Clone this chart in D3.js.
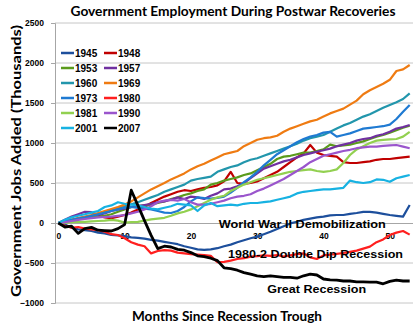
<!DOCTYPE html>
<html><head><meta charset="utf-8">
<script src="https://cdn.jsdelivr.net/npm/d3@7"></script>
<style>
html,body{margin:0;padding:0;background:#fff;}
svg{display:block;}
</style></head>
<body>
<svg id="chart" width="420" height="328"></svg>
<script>
// ---------- DATA ----------
const months = d3.range(0, 54);
const xTickLabels = [0, 10, 20, 30, 40, 50];
const yTickValues = [-1000, -500, 0, 500, 1000, 1500, 2000, 2500];
const seriesNames = ["1945","1948","1953","1957","1960","1969","1973","1980","1981","1990","2001","2007"];
const seriesColors = ["#1d4f9c","#c00000","#5b9b1c","#7030a0","#2296ac","#ef7b12","#1f7ad2","#ff1f1f","#92d050","#9a55cc","#17b2e2","#000000"];

const s1945 = [0,-20,-60,-80,-90,-100,-120,-130,-150,-155,-165,-180,-185,-195,-210,-220,-235,-250,-265,-290,-310,-330,-335,-330,-315,-290,-270,-240,-215,-190,-170,-140,-110,-75,-40,-5,15,40,55,70,80,95,100,100,115,125,140,140,130,115,100,90,80,225];
const s1948 = [0,20,40,60,70,75,90,70,60,80,100,130,170,200,250,290,330,360,390,410,400,420,440,450,470,520,640,500,490,500,520,560,600,640,700,760,820,870,975,880,850,840,830,760,750,750,760,770,790,800,800,810,820,830];
const s1953 = [0,20,35,50,60,70,80,90,110,140,170,200,210,220,230,250,270,300,320,350,370,400,420,480,500,530,550,570,600,620,660,700,740,800,830,840,860,880,880,900,920,980,960,970,980,1000,1020,1050,1080,1100,1130,1160,1190,1215];
const s1957 = [0,40,80,110,140,135,100,120,150,170,180,200,210,225,240,260,270,290,320,300,330,320,300,340,370,420,430,460,500,560,620,680,710,740,770,790,820,850,870,890,910,930,960,980,1000,1030,1050,1060,1090,1110,1140,1180,1200,1225];
const s1960 = [0,15,30,50,70,90,110,140,165,190,210,235,260,290,320,350,390,420,450,480,530,550,565,580,640,670,700,720,760,790,810,840,870,900,930,960,990,1030,1060,1080,1100,1140,1180,1220,1250,1290,1330,1360,1400,1440,1475,1510,1550,1620];
const s1969 = [0,20,40,60,80,100,125,150,175,200,230,270,320,370,420,460,500,545,580,620,670,710,740,780,820,860,880,900,960,1000,1040,1060,1070,1090,1140,1180,1210,1240,1270,1290,1330,1370,1400,1430,1480,1530,1610,1660,1700,1740,1790,1900,1920,1975];
const s1973 = [0,20,40,55,70,90,110,130,150,170,190,200,190,180,170,150,130,125,150,200,270,320,310,305,315,330,380,440,510,570,640,720,790,860,910,960,1010,1050,1080,1100,1130,1140,1080,1100,1120,1150,1180,1190,1200,1210,1230,1300,1390,1475];
const s1980 = [0,-35,-60,-50,-70,-80,-90,-110,-140,-150,-190,-240,-270,-290,-380,-350,-340,-345,-370,-380,-390,-395,-400,-410,-490,-485,-470,-450,-440,-420,-415,-405,-410,-400,-420,-405,-390,-380,-430,-450,-405,-395,-385,-375,-360,-345,-320,-295,-240,-205,-150,-120,-100,-145];
const s1981 = [0,5,10,15,15,20,25,30,40,30,5,10,15,30,45,55,65,90,120,140,170,210,250,290,320,340,400,440,480,510,540,560,580,600,620,640,650,660,670,650,640,650,670,750,850,920,960,1000,1030,1040,1045,1050,1080,1140];
const s1990 = [0,10,25,40,50,60,70,75,80,90,100,120,140,170,210,260,280,290,280,300,260,230,230,240,260,280,310,330,340,360,400,430,470,510,550,600,650,700,760,800,840,860,880,900,915,935,945,955,955,965,970,975,955,935];
const s2001 = [0,40,70,90,110,130,150,200,220,260,240,230,220,200,180,170,190,210,240,230,220,150,220,250,210,220,230,220,240,250,250,260,270,290,310,330,370,390,400,410,420,420,430,440,530,510,500,510,545,540,515,560,580,600];
const s2007 = [0,-50,-40,-130,-70,-55,-90,-95,-100,-70,-20,410,220,30,-155,-320,-290,-300,-330,-340,-370,-410,-420,-440,-470,-560,-570,-590,-620,-640,-660,-670,-660,-670,-680,-680,-690,-660,-640,-650,-700,-710,-715,-725,-725,-735,-735,-740,-740,-760,-730,-715,-725,-725];

const seriesValues = [s1945,s1948,s1953,s1957,s1960,s1969,s1973,s1980,s1981,s1990,s2001,s2007];

const annotations = [
  {text:"World War II Demobilization", month:24.2, value:-62, w:167},
  {text:"1980-2 Double Dip Recession", month:25.6, value:-437, w:175},
  {text:"Great Recession", month:31.5, value:-875, w:99}
];

// ---------- LAYOUT ----------
const svg = d3.select("#chart");
const pLeft = 55, pRight = 413, pTop = 23, pBottom = 303;

const x = d3.scalePoint().domain(months).range([pLeft, pRight]).padding(0.5);
const y = d3.scaleLinear().domain([-1000, 2500]).range([pBottom, pTop]);
const xAt = m => x(0) + m * x.step();

// gridlines
svg.append("g").selectAll("line").data(yTickValues.filter(v => v !== 0)).join("line")
  .attr("x1", pLeft).attr("x2", pRight)
  .attr("y1", d => y(d)).attr("y2", d => y(d))
  .attr("stroke", "#c6c6c6").attr("stroke-width", 1);

// y axis
const yAxis = d3.axisLeft(y).tickValues(yTickValues).tickFormat(d3.format("d")).tickSize(4).tickPadding(7);
const gy = svg.append("g").attr("transform", `translate(${pLeft},0)`).call(yAxis);
gy.select(".domain").attr("stroke", "#a6a6a6");
gy.selectAll(".tick line").attr("stroke", "#a6a6a6");
gy.selectAll(".tick text").attr("font-family", "Liberation Sans, Arial, sans-serif")
  .attr("font-weight", "bold").attr("font-size", "8.5px").attr("fill", "#000");

// x axis along zero
const xAxis = d3.axisBottom(x).tickValues(xTickLabels).tickSize(0).tickPadding(10);
const gx = svg.append("g").attr("transform", `translate(0,${y(0)})`).call(xAxis);
gx.select(".domain").attr("stroke", "#a6a6a6").attr("d", `M${pLeft},0.5H${pRight}`);
gx.selectAll(".tick text").attr("font-family", "Liberation Sans, Arial, sans-serif")
  .attr("font-weight", "bold").attr("font-size", "8.5px").attr("fill", "#000");

// lines
const line = d3.line().x((d, i) => x(months[i])).y(d => y(d));
svg.append("g").selectAll("path").data(seriesValues).join("path")
  .attr("d", d => line(d))
  .attr("fill", "none")
  .attr("stroke", (d, i) => seriesColors[i])
  .attr("stroke-width", (d, i) => seriesNames[i] === "2007" ? 2.8 : 2.2)
  .attr("stroke-linejoin", "round");

// annotations
svg.append("g").selectAll("text").data(annotations).join("text")
  .attr("x", d => xAt(d.month))
  .attr("y", d => y(d.value))
  .attr("text-anchor", "start")
  .attr("font-family", "Liberation Sans, Arial, sans-serif")
  .attr("font-weight", "bold").attr("font-size", "11px")
  .attr("textLength", d => d.w).attr("lengthAdjust", "spacingAndGlyphs")
  .attr("fill", "#000")
  .text(d => d.text);

// legend
const leg = svg.append("g").attr("transform", "translate(61,53)");
const items = leg.selectAll("g").data(seriesNames).join("g")
  .attr("transform", (d, i) => `translate(${(i % 2) * 43},${Math.floor(i / 2) * 15})`);
items.append("line").attr("x1", 0).attr("x2", 13).attr("y1", 0).attr("y2", 0)
  .attr("stroke", (d, i) => seriesColors[i]).attr("stroke-width", 2.5);
items.append("text").attr("x", 14).attr("y", 4)
  .attr("font-family", "Liberation Sans, Arial, sans-serif")
  .attr("font-weight", "bold").attr("font-size", "10px").attr("fill", "#000")
  .text(d => d);

// titles
svg.append("text").attr("x", 233).attr("y", 16).attr("text-anchor", "middle")
  .attr("font-family", "Lato, 'Open Sans', sans-serif").attr("font-weight", "bold")
  .attr("font-size", "13px").attr("textLength", 325).attr("lengthAdjust", "spacingAndGlyphs")
  .text("Government Employment During Postwar Recoveries");

svg.append("text").attr("x", 227).attr("y", 321).attr("text-anchor", "middle")
  .attr("font-family", "Lato, 'Open Sans', sans-serif").attr("font-weight", "bold")
  .attr("font-size", "13px").attr("textLength", 190).attr("lengthAdjust", "spacingAndGlyphs")
  .text("Months Since Recession Trough");

svg.append("text").attr("transform", "translate(21,161) rotate(-90)").attr("text-anchor", "middle")
  .attr("font-family", "Lato, 'Open Sans', sans-serif").attr("font-weight", "bold")
  .attr("font-size", "14px").attr("textLength", 272).attr("lengthAdjust", "spacingAndGlyphs")
  .text("Government Jobs Added (Thousands)");
</script>
</body></html>
